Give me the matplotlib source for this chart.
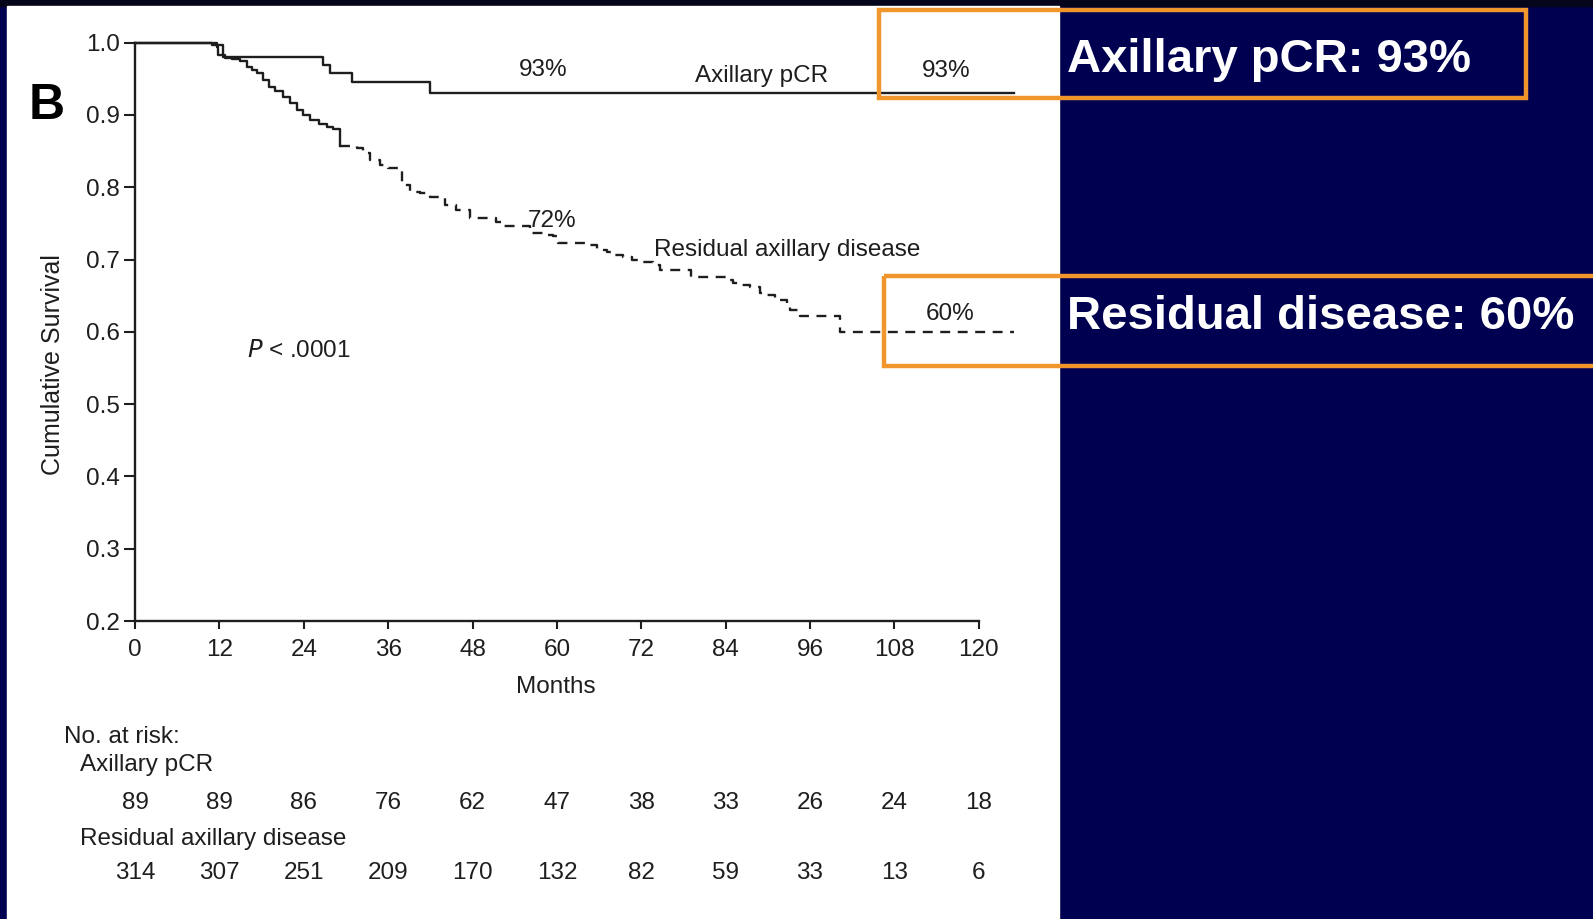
import matplotlib
matplotlib.use('Agg')
import matplotlib.pyplot as plt
from matplotlib.patches import Rectangle

plt.rcParams['font.family'] = ['Liberation Sans', 'DejaVu Sans']

# --- data ---
months_ticks = [0, 12, 24, 36, 48, 60, 72, 84, 96, 108, 120]
surv_ticks = [0.2, 0.3, 0.4, 0.5, 0.6, 0.7, 0.8, 0.9, 1.0]

# Kaplan-Meier, axillary pCR (solid)
pcr_t = [0, 11.6, 12.5, 26.8, 27.7, 30.8, 41.9, 125]
pcr_s = [1.0, 0.997, 0.980, 0.969, 0.958, 0.945, 0.931, 0.931]

# Kaplan-Meier, residual axillary disease (dashed)
res_t = [0, 10.9, 11.6, 11.8, 12.8, 13.8, 14.9, 15.9, 16.6, 17.3, 18.2, 19.0, 19.9,
         21.1, 22.0, 23.0, 23.9, 24.9, 26.1, 27.3, 28.2,
         29.1, 31.5, 32.4, 33.4, 34.8, 36.0, 37.9, 39.1, 40.5, 41.9, 43.8, 44.1,
         45.7, 47.6, 51.4, 52.3, 56.2, 58.0, 59.4, 60.2, 64.7, 65.7, 67.1, 68.3,
         69.4, 70.7, 71.8, 73.7, 74.6, 79.1, 84.2, 85.0, 86.0, 87.4, 88.9, 89.3,
         91.0, 92.7, 93.1, 94.6, 100.2, 125]
res_s = [1.0, 0.997, 0.994, 0.983, 0.979, 0.977, 0.975, 0.967, 0.962, 0.958, 0.948, 0.939, 0.933,
         0.925, 0.916, 0.907, 0.900, 0.893, 0.888, 0.884, 0.880,
         0.857, 0.854, 0.847, 0.838, 0.831, 0.826, 0.803, 0.794, 0.792, 0.787, 0.785, 0.775,
         0.769, 0.757, 0.752, 0.746, 0.737, 0.734, 0.732, 0.723, 0.720, 0.713, 0.711, 0.706,
         0.704, 0.699, 0.697, 0.692, 0.686, 0.676, 0.672, 0.668, 0.665, 0.662, 0.654, 0.651,
         0.644, 0.637, 0.630, 0.622, 0.600, 0.600]

risk_pcr = [89, 89, 86, 76, 62, 47, 38, 33, 26, 24, 18]
risk_res = [314, 307, 251, 209, 170, 132, 82, 59, 33, 13, 6]

W, H = 1593, 919
NAVY = '#000050'
ORANGE = '#F0962D'
INK = '#1e1e1e'
FS = 17.5

fig = plt.figure(figsize=(W / 100, H / 100), dpi=100)
fig.patch.set_facecolor(NAVY)

# background layer in pixel units
bg = fig.add_axes([0, 0, 1, 1], zorder=0)
bg.set_xlim(0, W)
bg.set_ylim(H, 0)
bg.axis('off')
bg.add_patch(Rectangle((0, 0), W, 6, color='#04041a'))
bg.add_patch(Rectangle((7, 6), 1052, H, color='white'))

# main plot
ax_l, ax_r, ax_t, ax_b = 135, 1021, 42.7, 621
ax = fig.add_axes([ax_l / W, 1 - ax_b / H, (ax_r - ax_l) / W, (ax_b - ax_t) / H], zorder=2)
ax.patch.set_alpha(0)
ax.step(pcr_t, pcr_s, where='post', color=INK, lw=1.7, clip_on=False)

# the dense early part of the dashed curve reads as a continuous zig-zag
k = res_t.index(29.1) + 1
ax.step(res_t[:k], res_s[:k], where='post', color=INK, lw=1.7, clip_on=False)
ax.step(res_t[k - 1:], res_s[k - 1:], where='post', color=INK, lw=1.7, clip_on=False,
        linestyle=(0, (4.2, 3.2)))

ax.set_xlim(0, 126)
ax.set_ylim(0.2, 1.0)
ax.set_xticks(months_ticks)
ax.set_yticks(surv_ticks)
ax.set_yticklabels([f'{v:.1f}' for v in surv_ticks])
for s in ['top', 'right']:
    ax.spines[s].set_visible(False)
ax.spines['bottom'].set_bounds(0, 120)
for s in ['left', 'bottom']:
    ax.spines[s].set_linewidth(1.7)
    ax.spines[s].set_color(INK)
ax.tick_params(axis='y', length=8, width=1.5, pad=3, labelsize=FS, colors=INK)
ax.tick_params(axis='x', length=6, width=1.5, pad=7, labelsize=FS, colors=INK)
ax.set_xlabel('Months', fontsize=FS, color=INK)
ax.xaxis.set_label_coords((556 - ax_l) / (ax_r - ax_l), (ax_b - 687) / (ax_b - ax_t))
ax.xaxis.label.set_va('center')

# curve annotations
txt = dict(fontsize=FS, color=INK, ha='center', va='center')
ax.text(58.1, 0.962, '93%', **txt)
ax.text(89.1, 0.954, 'Axillary pCR', **txt)
ax.text(115.3, 0.961, '93%', **txt)
ax.text(59.3, 0.753, '72%', **txt)
ax.text(92.8, 0.713, 'Residual axillary disease', **txt)
ax.text(115.9, 0.625, '60%', **txt)
ax.text(23.3, 0.574, r'$\it{P}$ < .0001', **txt)


def ay(py):
    return (ax_b - py) / (ax_b - ax_t)


tr = ax.get_xaxis_transform()
for m, n in zip(months_ticks, risk_pcr):
    ax.text(m, ay(803), str(n), transform=tr, clip_on=False, **txt)
for m, n in zip(months_ticks, risk_res):
    ax.text(m, ay(873), str(n), transform=tr, clip_on=False, **txt)

# labels in pixel layer
bg.text(64, 737, 'No. at risk:', fontsize=FS, color=INK, ha='left', va='center')
bg.text(80, 765, 'Axillary pCR', fontsize=FS, color=INK, ha='left', va='center')
bg.text(80, 839, 'Residual axillary disease', fontsize=FS, color=INK, ha='left', va='center')
bg.text(53, 365, 'Cumulative Survival', fontsize=FS + 0.5, color=INK, rotation=90,
        ha='center', va='center')
bg.text(47, 106, 'B', fontsize=36, fontweight='bold', color='black', ha='center', va='center')

# highlight boxes on top
fg = fig.add_axes([0, 0, 1, 1], zorder=3)
fg.set_xlim(0, W)
fg.set_ylim(H, 0)
fg.axis('off')
fg.patch.set_alpha(0)
fg.add_patch(Rectangle((878.5, 9.5), 1526 - 878.5, 97.5 - 9.5, fill=False,
                       edgecolor=ORANGE, lw=3.2))
fg.add_patch(Rectangle((884, 275.5), 800, 365.5 - 275.5, fill=False,
                       edgecolor=ORANGE, lw=3.2, clip_on=False))
fg.text(1067, 60, 'Axillary pCR: 93%', fontsize=34, fontweight='bold', color='white',
        ha='left', va='center')
fg.text(1067, 317, 'Residual disease: 60%', fontsize=34, fontweight='bold', color='white',
        ha='left', va='center')

fig.savefig('out.png', dpi=100, facecolor=NAVY)
